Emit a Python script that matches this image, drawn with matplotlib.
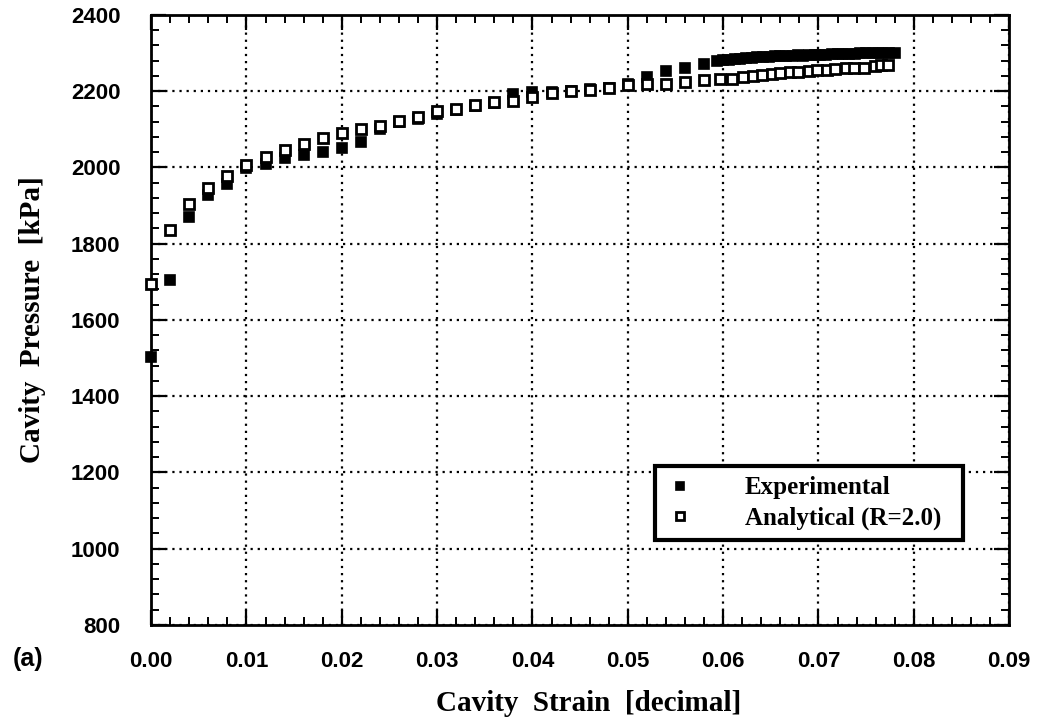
import matplotlib
matplotlib.use("Agg")
import matplotlib.pyplot as plt
from matplotlib.ticker import MultipleLocator

# Experimental cavity pressure, sparse part (strain step 0.002)
exp_strain = [0.000, 0.002, 0.004, 0.006, 0.008, 0.010, 0.012, 0.014, 0.016, 0.018,
              0.020, 0.022, 0.024, 0.026, 0.028, 0.030, 0.032, 0.034, 0.036, 0.038,
              0.040, 0.042, 0.044, 0.046, 0.048, 0.050, 0.052, 0.054, 0.056, 0.058]
exp_pressure = [1502, 1704, 1871, 1929, 1957, 1998, 2008, 2025, 2033, 2040,
                2051, 2067, 2100, 2118, 2128, 2140, 2150, 2160, 2170, 2192,
                2198, 2197, 2200, 2205, 2208, 2218, 2238, 2253, 2260, 2272]

# Experimental cavity pressure, densely sampled tail
exp_tail_strain = [0.0594, 0.0600, 0.0606, 0.0612, 0.0618, 0.0624, 0.0630, 0.0636,
                   0.0642, 0.0648, 0.0654, 0.0660, 0.0666, 0.0672, 0.0678, 0.0684,
                   0.0690, 0.0696, 0.0702, 0.0708, 0.0714, 0.0720, 0.0726, 0.0732,
                   0.0738, 0.0744, 0.0750, 0.0756, 0.0762, 0.0768, 0.0774, 0.0780]
exp_tail_pressure = [2279, 2282, 2283, 2285, 2284, 2286, 2288, 2289,
                     2290, 2289, 2291, 2292, 2292, 2293, 2294, 2293,
                     2295, 2295, 2296, 2296, 2297, 2297, 2298, 2297,
                     2298, 2299, 2299, 2300, 2300, 2300, 2301, 2301]

# Analytical prediction (R = 2.0)
ana_strain = [0.000, 0.002, 0.004, 0.006, 0.008, 0.010, 0.012, 0.014, 0.016, 0.018,
              0.020, 0.022, 0.024, 0.026, 0.028, 0.030, 0.032, 0.034, 0.036, 0.038,
              0.040, 0.042, 0.044, 0.046, 0.048, 0.050, 0.052, 0.054, 0.056, 0.058,
              0.0597, 0.0609, 0.0621, 0.0631, 0.0641, 0.0651, 0.0660, 0.0670, 0.0679,
              0.0690, 0.0698, 0.0709, 0.0717, 0.0729, 0.0737, 0.0748, 0.0759, 0.0766,
              0.0773]
ana_pressure = [1693, 1836, 1904, 1946, 1978, 2006, 2028, 2045, 2062, 2078,
                2090, 2100, 2108, 2123, 2131, 2147, 2153, 2164, 2172, 2175,
                2184, 2195, 2200, 2203, 2208, 2215, 2220, 2220, 2224, 2230,
                2231, 2233, 2238, 2239, 2242, 2245, 2247, 2249, 2249,
                2254, 2256, 2256, 2258, 2260, 2262, 2262, 2267, 2269,
                2269]

x_ticks = [0.00, 0.01, 0.02, 0.03, 0.04, 0.05, 0.06, 0.07, 0.08, 0.09]
y_ticks = [800, 1000, 1200, 1400, 1600, 1800, 2000, 2200, 2400]

serif = ["Liberation Serif", "DejaVu Serif"]
sans = ["Liberation Sans", "DejaVu Sans"]

fig = plt.figure(figsize=(10.42, 7.28), dpi=100)
ax = fig.add_axes([0.145, 0.1415, 0.8235, 0.838])

ax.plot(exp_strain + exp_tail_strain, exp_pressure + exp_tail_pressure,
        linestyle="none", marker="s", ms=7.5, mfc="black", mec="black",
        mew=1.2, clip_on=False, zorder=3, label="Experimental")
ax.plot(ana_strain, ana_pressure,
        linestyle="none", marker="s", ms=7.5, mfc="white", mec="black",
        mew=2.0, clip_on=False, zorder=4, label="Analytical (R=2.0)")

ax.set_xlim(0.0, 0.09)
ax.set_ylim(800, 2400)
ax.set_xticks(x_ticks)
ax.set_yticks(y_ticks)
ax.set_xticklabels([f"{v:.2f}" for v in x_ticks])
ax.set_yticklabels([str(v) for v in y_ticks])
ax.xaxis.set_minor_locator(MultipleLocator(0.002))
ax.yaxis.set_minor_locator(MultipleLocator(40))

ax.grid(True, which="major", color="black", linestyle=(0, (1, 2.2)), linewidth=1.6)
ax.set_axisbelow(True)

ax.tick_params(which="both", direction="in", top=True, right=True, color="black")
ax.tick_params(which="major", length=11, width=1.6)
ax.tick_params(which="minor", length=6, width=1.4)
ax.tick_params(axis="x", pad=19)
ax.tick_params(axis="y", pad=22)
for lbl in ax.get_xticklabels() + ax.get_yticklabels():
    lbl.set_fontfamily(sans)
    lbl.set_fontweight("bold")
    lbl.set_fontsize(16)

for sp in ax.spines.values():
    sp.set_linewidth(2.0)
    sp.set_color("black")

# x-axis title sits low under the tick labels
fig.text(0.565, 0.033, "Cavity  Strain  [decimal]", fontfamily=serif,
         fontweight="bold", fontsize=21, ha="center", va="center")
ax.set_ylabel("Cavity  Pressure  [kPa]", fontfamily=serif, fontweight="bold",
              fontsize=21, labelpad=18)

fig.text(0.012, 0.095, "(a)", fontfamily=sans, fontweight="bold", fontsize=18,
         ha="left", va="center")

leg = ax.legend(loc="lower left", bbox_to_anchor=(0.587, 0.139, 0.359, 0.127),
                mode="expand", frameon=True, fancybox=False, borderpad=0.4,
                handletextpad=2.0, handlelength=1.2, labelspacing=0.3,
                markerscale=0.7, borderaxespad=0.0,
                prop={"family": serif, "weight": "bold", "size": 18})
leg.get_frame().set_edgecolor("black")
leg.get_frame().set_linewidth(3.0)
leg.get_frame().set_alpha(1.0)

fig.savefig("out.png", dpi=100)
